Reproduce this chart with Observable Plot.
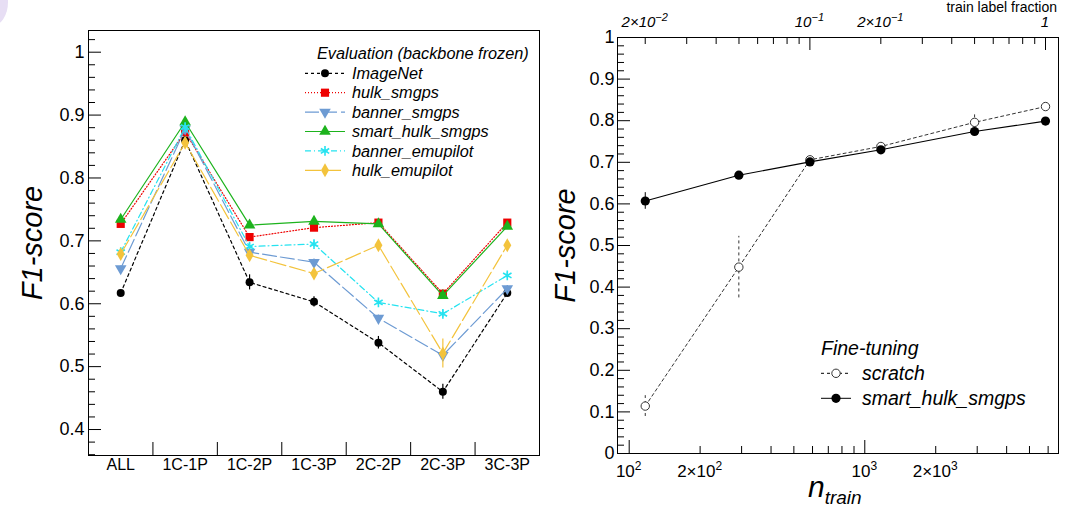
<!DOCTYPE html>
<html><head><meta charset="utf-8">
<script src="https://cdn.jsdelivr.net/npm/d3@7"></script>
<script src="https://cdn.jsdelivr.net/npm/@observablehq/plot@0.6"></script>
<style>
body{margin:0;background:#fff;}
#wrap{position:relative;width:1080px;height:509px;overflow:hidden;font-family:"Liberation Sans",Arial,Helvetica,sans-serif;background:#fff;}
#wrap svg{position:absolute;top:0;overflow:visible;}
#blob{position:absolute;left:-24px;top:-22px;width:32px;height:48px;border-radius:50%;background:#e7def4;}
</style></head><body><div id="wrap"><div id="blob"></div></div>
<script>
// ---------- left panel data ----------
const categories = ["ALL","1C-1P","1C-2P","1C-3P","2C-2P","2C-3P","3C-3P"];
const imagenet       = [0.617,0.860,0.634,0.603,0.538,0.460,0.617];
const imagenetErr    = [0.004,0.010,0.012,0.008,0.010,0.012,0.006];
const hulkSmgps      = [0.727,0.873,0.706,0.721,0.729,0.616,0.729];
const hulkSmgpsErr   = [0.004,0.006,0.005,0.005,0.004,0.006,0.004];
const bannerSmgps    = [0.656,0.878,0.682,0.666,0.577,0.518,0.624];
const bannerSmgpsErr = [0.004,0.006,0.005,0.005,0.005,0.010,0.005];
const smartHulk      = [0.734,0.889,0.725,0.731,0.727,0.613,0.723];
const smartHulkErr   = [0.004,0.005,0.004,0.004,0.004,0.006,0.004];
const bannerEmu      = [0.682,0.881,0.691,0.695,0.602,0.584,0.645];
const bannerEmuErr   = [0.004,0.006,0.005,0.005,0.005,0.006,0.005];
const hulkEmu        = [0.679,0.856,0.677,0.648,0.693,0.521,0.693];
const hulkEmuErr     = [0.004,0.008,0.006,0.006,0.006,0.023,0.006];
const leftYTicks = [0.4,0.5,0.6,0.7,0.8,0.9,1];
const leftYLabels = ["0.4","0.5","0.6","0.7","0.8","0.9","1"];

// ---------- right panel data ----------
const labelFraction = [0.02,0.05,0.1,0.2,0.5,1];
const nTrain        = [117,292,585,1170,2924,5848];
const nFull = 5848;
const scratch       = [0.114,0.448,0.706,0.738,0.796,0.834];
const scratchErr    = [0.025,0.074,0.006,0.006,0.018,0.008];
const fineSmart     = [0.607,0.669,0.701,0.730,0.774,0.799];
const fineSmartErr  = [0.020,0.006,0.006,0.006,0.006,0.005];
const rightYTicks   = [0,0.1,0.2,0.3,0.4,0.5,0.6,0.7,0.8,0.9,1];
const rightYLabels  = ["0","0.1","0.2","0.3","0.4","0.5","0.6","0.7","0.8","0.9","1"];
const bottomTicks   = [100,200,1000,2000];
const bottomLabels  = [["","10","2"],["2×","10","2"],["","10","3"],["2×","10","3"]];
const topTicks      = [0.02,0.1,0.2,1];
const topLabels     = [["2×","10","−2"],["","10","−1"],["2×","10","−1"],["1","",""]];

const FONT = '"Liberation Sans",Arial,Helvetica,sans-serif';
const wrap = document.getElementById("wrap");

const leftSeries = [
  {key:"ImageNet", v:imagenet, e:imagenetErr, color:"#000000", dash:"3,3", symbol:"circle", r:4, fill:"#000000", rotate:0},
  {key:"hulk_smgps", v:hulkSmgps, e:hulkSmgpsErr, color:"#ee0000", dash:"1,2", symbol:"square", r:4.6, fill:"#ee0000", rotate:0},
  {key:"banner_smgps", v:bannerSmgps, e:bannerSmgpsErr, color:"#6d9bd3", dash:"14,4", symbol:"triangle", r:4.3, fill:"#6d9bd3", rotate:180},
  {key:"smart_hulk_smgps", v:smartHulk, e:smartHulkErr, color:"#1db31d", dash:null, symbol:"triangle", r:4.3, fill:"#1db31d", rotate:0},
  {key:"banner_emupilot", v:bannerEmu, e:bannerEmuErr, color:"#25e3f0", dash:"6,3,1,3", symbol:"asterisk", r:4.6, fill:null, rotate:0},
  {key:"hulk_emupilot", v:hulkEmu, e:hulkEmuErr, color:"#f3c33c", dash:"16,4", symbol:"diamond", r:4.2, fill:"#f3c33c", rotate:0}
];

// ---------- LEFT PLOT ----------
{
  const W = 545, yDom = [0.3587, 1.0345];
  const marks = [];
  const edges = categories.slice(1).map((c,i)=>i+0.5);
  const yMinor = d3.range(18,52).filter(k=>k%5!==0).map(k=>k/50);
  marks.push(Plot.ruleX(edges, {x:d=>d, y1:yDom[0], y2:yDom[0], insetTop:-13, stroke:"#000"}));
  marks.push(Plot.ruleY(leftYTicks, {y:d=>d, x1:-0.5, x2:-0.5, insetRight:-13, stroke:"#000"}));
  marks.push(Plot.ruleY(yMinor, {y:d=>d, x1:-0.5, x2:-0.5, insetRight:-7, stroke:"#000"}));
  marks.push(Plot.text(leftYTicks, {y:d=>d, text:(d,i)=>leftYLabels[i], frameAnchor:"left", dx:-4, textAnchor:"end", fontSize:18, fill:"#000"}));
  marks.push(Plot.text(categories, {x:(d,i)=>i, text:d=>d, frameAnchor:"bottom", dy:14, fontSize:16, fill:"#000"}));
  marks.push(Plot.text(["F1-score"], {frameAnchor:"left", dx:-56, rotate:-90, textAnchor:"middle", fontSize:29, fontStyle:"italic", fill:"#000"}));
  leftSeries.forEach(s=>{
    const rows = s.v.map((v,i)=>({i, v, e:s.e[i]}));
    marks.push(Plot.ruleX(rows, {x:"i", y1:d=>d.v-d.e, y2:d=>d.v+d.e, stroke:s.color, strokeWidth:1.2}));
    marks.push(Plot.line(rows, {x:"i", y:"v", stroke:s.color, strokeWidth:1.2, strokeDasharray:s.dash}));
    marks.push(Plot.dot(rows, {x:"i", y:"v", symbol:s.symbol, r:s.r, rotate:s.rotate,
      fill: s.fill || "none", stroke: s.fill ? "none" : s.color, strokeWidth: 1.6}));
  });
  marks.push(Plot.frame({stroke:"#000", strokeWidth:1}));
  const p = Plot.plot({
    width:W, height:509, marginLeft:88, marginRight:W-539, marginTop:30, marginBottom:54,
    x:{domain:[-0.5,6.5], axis:null}, y:{domain:yDom, axis:null},
    style:{fontFamily:FONT, background:"transparent", overflow:"visible"},
    marks
  });
  p.style.left = "0px";
  wrap.appendChild(p);
}

// ---------- RIGHT PLOT ----------
const L = 545;
let pR;
{
  const W = 1080-L, xDom = [89.2, 6640];
  const marks = [];
  const yMinor = d3.range(0,51).filter(k=>k%5!==0).map(k=>k/50);
  const xMinor = [2,3,4,5,6,7,8,9].map(m=>m*100).concat([2,3,4,5,6].map(m=>m*1000));
  const topMinor = [2,3,4,5,6,7,8,9].map(m=>m/100).concat([2,3,4,5,6,7,8,9].map(m=>m/10));
  marks.push(Plot.ruleY(rightYTicks, {y:d=>d, x1:xDom[0], x2:xDom[0], insetRight:-13, stroke:"#000"}));
  marks.push(Plot.ruleY(yMinor, {y:d=>d, x1:xDom[0], x2:xDom[0], insetRight:-7, stroke:"#000"}));
  marks.push(Plot.ruleX([100,1000], {x:d=>d, y1:0, y2:0, insetTop:-13, stroke:"#000"}));
  marks.push(Plot.ruleX(xMinor, {x:d=>d, y1:0, y2:0, insetTop:-7, stroke:"#000"}));
  marks.push(Plot.ruleX([0.1,1], {x:d=>d*nFull, y1:1, y2:1, insetBottom:-13, stroke:"#000"}));
  marks.push(Plot.ruleX(topMinor, {x:d=>d*nFull, y1:1, y2:1, insetBottom:-7, stroke:"#000"}));
  marks.push(Plot.text(rightYTicks, {y:d=>d, text:(d,i)=>rightYLabels[i], frameAnchor:"left", dx:-3, textAnchor:"end", fontSize:18, fill:"#000"}));
  marks.push(Plot.text(["F1-score"], {frameAnchor:"left", dx:-52, rotate:-90, textAnchor:"middle", fontSize:29, fontStyle:"italic", fill:"#000"}));
  const sRows = nTrain.map((n,i)=>({n, v:scratch[i], e:scratchErr[i]}));
  const fRows = nTrain.map((n,i)=>({n, v:fineSmart[i], e:fineSmartErr[i]}));
  marks.push(Plot.ruleX(sRows, {x:"n", y1:d=>d.v-d.e, y2:d=>d.v+d.e, stroke:"#333", strokeDasharray:"3,3"}));
  marks.push(Plot.ruleX(fRows, {x:"n", y1:d=>d.v-d.e, y2:d=>d.v+d.e, stroke:"#000"}));
  marks.push(Plot.line(sRows, {x:"n", y:"v", stroke:"#333", strokeWidth:1, strokeDasharray:"3,3"}));
  marks.push(Plot.line(fRows, {x:"n", y:"v", stroke:"#000", strokeWidth:1.1}));
  marks.push(Plot.dot(sRows, {x:"n", y:"v", r:4.2, fill:"#fff", stroke:"#333", strokeWidth:1}));
  marks.push(Plot.dot(fRows, {x:"n", y:"v", r:4.6, fill:"#000", stroke:"none"}));
  marks.push(Plot.frame({stroke:"#000", strokeWidth:1}));
  pR = Plot.plot({
    width:W, height:509, marginLeft:617-L, marginRight:1080-1058, marginTop:37, marginBottom:56,
    x:{type:"log", domain:xDom, axis:null}, y:{domain:[0,1], axis:null},
    style:{fontFamily:FONT, background:"transparent", overflow:"visible"},
    marks
  });
  pR.style.left = L + "px";
  wrap.appendChild(pR);
}

// ---------- legends, tick labels with superscripts, axis titles ----------
{
  const svg = d3.select(wrap).append("svg").attr("width",1080).attr("height",509)
    .style("left","0px").style("font-family",FONT);
  const xs = v => L + pR.scale("x").apply(v);
  const frameTop = 37, frameBottom = 453;
  // bottom tick labels (log axis)
  bottomTicks.forEach((v,i)=>{
    const [a,b,c] = bottomLabels[i];
    const t = svg.append("text").attr("x",xs(v)).attr("y",frameBottom+24).attr("text-anchor","middle").attr("font-size",17);
    t.append("tspan").text(a+b);
    t.append("tspan").attr("font-size",12).attr("dy",-7).text(c);
  });
  // top tick labels (train label fraction)
  topTicks.forEach((f,i)=>{
    const [a,b,c] = topLabels[i];
    const t = svg.append("text").attr("x",xs(f*nFull)).attr("y",frameTop-10).attr("text-anchor","middle")
      .attr("font-size",15).attr("font-style","italic");
    t.append("tspan").text(a+b);
    if (c) t.append("tspan").attr("font-size",11).attr("dy",-6).text(c);
  });
  const symMap = {circle:d3.symbolCircle, square:d3.symbolSquare, triangle:d3.symbolTriangle,
                  asterisk:d3.symbolAsterisk, diamond:d3.symbolDiamond};
  svg.append("text").attr("x",317).attr("y",53).attr("dy","0.35em").attr("font-size",16.3)
    .attr("font-style","italic").text("Evaluation (backbone frozen)");
  leftSeries.forEach((s,k)=>{
    const y = 73.3 + k*19.4;
    svg.append("line").attr("x1",305).attr("x2",345).attr("y1",y).attr("y2",y)
      .attr("stroke",s.color).attr("stroke-width",1.2).attr("stroke-dasharray",s.dash);
    svg.append("path").attr("d",d3.symbol(symMap[s.symbol], Math.PI*s.r*s.r)())
      .attr("transform",`translate(325,${y}) rotate(${s.rotate})`)
      .attr("fill", s.fill || "none").attr("stroke", s.fill ? "none" : s.color).attr("stroke-width",1.6);
    svg.append("text").attr("x",352).attr("y",y).attr("dy","0.35em").attr("font-size",16.3)
      .attr("font-style","italic").text(s.key);
  });
  // right legend
  svg.append("text").attr("x",821).attr("y",348).attr("dy","0.35em").attr("font-size",19.5)
    .attr("font-style","italic").text("Fine-tuning");
  const rl = [
    {key:"scratch", y:373.3, dash:"3,3", fill:"#fff", stroke:"#333", r:4.2},
    {key:"smart_hulk_smgps", y:398.3, dash:null, fill:"#000", stroke:"none", r:4.6}
  ];
  rl.forEach(e=>{
    svg.append("line").attr("x1",821).attr("x2",851).attr("y1",e.y).attr("y2",e.y)
      .attr("stroke","#000").attr("stroke-dasharray",e.dash);
    svg.append("circle").attr("cx",836).attr("cy",e.y).attr("r",e.r).attr("fill",e.fill).attr("stroke",e.stroke);
    svg.append("text").attr("x",862).attr("y",e.y).attr("dy","0.35em").attr("font-size",19.5)
      .attr("font-style","italic").text(e.key);
  });
  // n_train
  const t = svg.append("text").attr("x",808).attr("y",497).attr("font-style","italic");
  t.append("tspan").attr("font-size",30).text("n");
  t.append("tspan").attr("font-size",19).attr("dy",7).text("train");
  // top axis title
  svg.append("text").attr("x",1057).attr("y",12).attr("text-anchor","end").attr("font-size",14)
    .text("train label fraction");
}
</script></body></html>
